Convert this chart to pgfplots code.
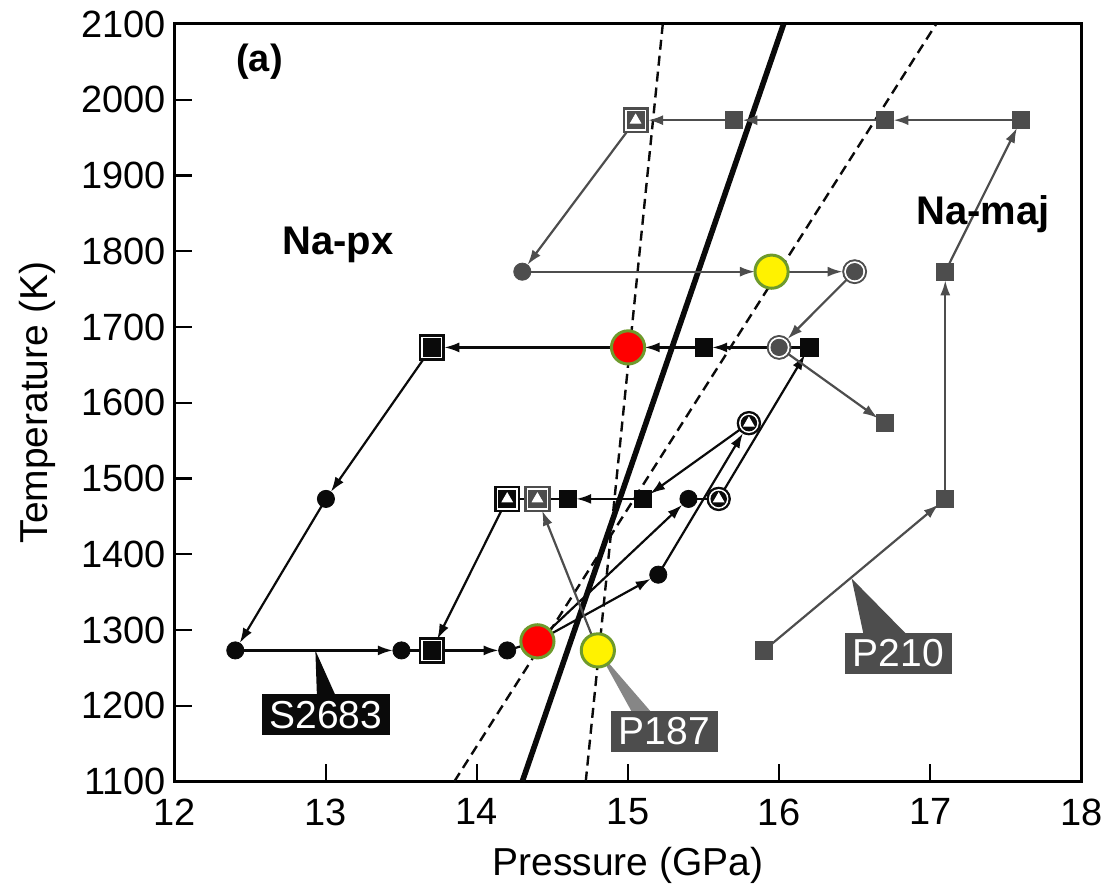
\documentclass[border=0pt]{standalone}
\usepackage{fontspec}
\setmainfont{Liberation Sans}
\usepackage{pgfplots}
\pgfplotsset{compat=1.18}
\usetikzlibrary{arrows.meta}
\definecolor{ink}{HTML}{0A0A0A}
\definecolor{mgray}{HTML}{4D4D4D}
\definecolor{lgray}{HTML}{868686}
\definecolor{rimgreen}{HTML}{6E9A2C}

% one arrow segment: [colour]{shorten}{x1,y1}{x2,y2}
\newcommand{\arr}[4][ink]{\addplot[#1,line width=1.1pt,-{Latex[length=7.5pt,width=5pt]},shorten >=#2] coordinates {(#3) (#4)};}
\newcommand{\seg}[3][ink]{\addplot[#1,line width=1.1pt] coordinates {(#2) (#3)};}

\begin{document}
\begin{tikzpicture}
\begin{axis}[
  scale only axis, width=453.5pt, height=379pt,
  xmin=12, xmax=18, ymin=1100, ymax=2100,
  xtick={12,13,...,18}, ytick={1100,1200,...,2100},
  xtick pos=bottom, ytick pos=left, tick align=inside,
  major tick length=8.5pt,
  axis line style={line width=1.5pt}, every tick/.style={line width=1.2pt,black},
  /pgf/number format/1000 sep={}, /pgf/number format/assume math mode=true,
  tick label style={font=\fontsize{19}{22}\selectfont},
  label style={font=\fontsize{19.5}{23}\selectfont},
  xlabel={Pressure (GPa)}, ylabel={Temperature (K)},
  xticklabel style={yshift=-5pt}, yticklabel style={xshift=-1pt},
  xlabel style={yshift=-4pt}, ylabel style={yshift=6pt},
  clip=true,
]
% phase boundaries
\addplot[ink, line width=1.2pt, dash pattern=on 5pt off 3pt] coordinates {(14.72,1100) (15.23,2100)};
\addplot[ink, line width=1.2pt, dash pattern=on 5pt off 3pt] coordinates {(13.85,1100) (17.04,2100)};
\addplot[ink, line width=2.8pt] coordinates {(14.3,1100) (16.03,2100)};

% S2683 path (black)
\arr{4.3pt}{12.4,1273}{13.5,1273}
\seg{13.5,1273}{13.7,1273}
\arr{4.3pt}{13.7,1273}{14.2,1273}
\seg{14.2,1273}{14.4,1285}
\arr{4.3pt}{14.4,1285}{15.2,1373}
\arr{4.3pt}{14.4,1285}{15.4,1473}
\seg{15.4,1473}{15.6,1473}
\arr{4.3pt}{15.6,1473}{16.2,1673}
\arr{5.8pt}{15.2,1373}{15.8,1573}
\arr{4.3pt}{15.8,1573}{15.1,1473}
\arr{4.3pt}{15.1,1473}{14.6,1473}
\seg{14.6,1473}{14.2,1473}
\arr{6.3pt}{14.2,1473}{13.7,1273}
\arr{4.3pt}{16.2,1673}{15.5,1673}
\arr{8.3pt}{15.5,1673}{15.0,1673}
\arr{6.3pt}{15.0,1673}{13.7,1673}
\arr{4.3pt}{13.7,1673}{13.0,1473}
\arr{4.3pt}{13.0,1473}{12.4,1273}

% P187 / P210 paths (grey)
\arr[mgray]{8.3pt}{14.3,1773}{15.95,1773}
\arr[mgray]{6pt}{15.95,1773}{16.5,1773}
\arr[mgray]{6pt}{16.5,1773}{16.0,1673}
\arr[mgray]{4.3pt}{16.0,1673}{16.7,1573}
\arr[mgray]{4.3pt}{15.05,1973}{14.3,1773}
\arr[mgray]{6.3pt}{15.7,1973}{15.05,1973}
\arr[mgray]{4.3pt}{16.7,1973}{15.7,1973}
\arr[mgray]{4.3pt}{17.6,1973}{16.7,1973}
\arr[mgray]{4.3pt}{17.1,1773}{17.6,1973}
\arr[mgray]{4.3pt}{17.1,1473}{17.1,1773}
\arr[mgray]{4.3pt}{15.9,1273}{17.1,1473}
\arr[mgray]{6.3pt}{14.8,1273}{14.4,1473}

% markers: black
\addplot[only marks, mark=*, mark size=4.3pt, ink] coordinates {(12.4,1273) (13.0,1473) (13.5,1273) (14.2,1273) (15.2,1373) (15.4,1473)};
\addplot[only marks, mark=square*, mark size=4.3pt, ink] coordinates {(15.1,1473) (14.6,1473) (16.2,1673) (15.5,1673)};
\addplot[only marks, mark=square*, mark size=6.3pt, ink] coordinates {(13.7,1273) (13.7,1673) (14.2,1473)};
\addplot[only marks, mark=square*, mark size=5.1pt, white] coordinates {(13.7,1273) (13.7,1673) (14.2,1473)};
\addplot[only marks, mark=square*, mark size=4.3pt, ink] coordinates {(13.7,1273) (13.7,1673) (14.2,1473)};
\addplot[only marks, mark=*, mark size=5.9pt, ink] coordinates {(15.6,1473) (15.8,1573)};
\addplot[only marks, mark=*, mark size=4.7pt, white] coordinates {(15.6,1473) (15.8,1573)};
\addplot[only marks, mark=*, mark size=3.9pt, ink] coordinates {(15.6,1473) (15.8,1573)};
% markers: grey
\addplot[only marks, mark=square*, mark size=4.3pt, mgray] coordinates {(15.7,1973) (16.7,1973) (17.6,1973) (17.1,1773) (17.1,1473) (16.7,1573) (15.9,1273)};
\addplot[only marks, mark=*, mark size=4.3pt, mgray] coordinates {(14.3,1773)};
\addplot[only marks, mark=*, mark size=6pt, mgray] coordinates {(16.5,1773) (16.0,1673)};
\addplot[only marks, mark=*, mark size=5pt, white] coordinates {(16.5,1773) (16.0,1673)};
\addplot[only marks, mark=*, mark size=4.1pt, mgray] coordinates {(16.5,1773) (16.0,1673)};
\addplot[only marks, mark=square*, mark size=6.3pt, mgray] coordinates {(14.4,1473) (15.05,1973)};
\addplot[only marks, mark=square*, mark size=5.1pt, white] coordinates {(14.4,1473) (15.05,1973)};
\addplot[only marks, mark=square*, mark size=4.3pt, mgray] coordinates {(14.4,1473) (15.05,1973)};
% white triangles
\addplot[only marks, mark=triangle*, mark size=3pt, white] coordinates {(14.2,1473) (14.4,1473) (15.05,1973) (15.6,1473) (15.8,1573)};

% callout pointers
\fill[ink] (axis cs:12.93,1273) -- (axis cs:12.94,1215) -- (axis cs:13.06,1215) -- cycle;
\fill[lgray] (axis cs:14.8,1273) -- (axis cs:15.03,1190) -- (axis cs:15.16,1190) -- cycle;
\fill[mgray] (axis cs:16.48,1368) -- (axis cs:16.56,1293) -- (axis cs:16.85,1293) -- cycle;

% red and yellow points
\addplot[only marks, mark=*, mark size=8.3pt, mark options={fill=red, draw=rimgreen, line width=1.5pt}] coordinates {(14.4,1285) (15.0,1673)};
\addplot[only marks, mark=*, mark size=8.3pt, mark options={fill=yellow, draw=rimgreen, line width=1.5pt}] coordinates {(14.8,1273) (15.95,1773)};

% labels
\node[fill=ink, text=white, font=\fontsize{19.5}{22}\selectfont, inner xsep=4pt, minimum height=20pt] at (axis cs:13.0,1188) {S2683};
\node[fill=mgray, text=white, font=\fontsize{19.5}{22}\selectfont, inner xsep=4pt, minimum height=20pt] at (axis cs:15.24,1166) {P187};
\node[fill=mgray, text=white, font=\fontsize{19.5}{22}\selectfont, inner xsep=4pt, minimum height=20pt] at (axis cs:16.79,1269) {P210};
\node[font=\bfseries\fontsize{20}{24}\selectfont] at (axis cs:13.08,1808) {Na-px};
\node[font=\bfseries\fontsize{20}{24}\selectfont] at (axis cs:17.35,1849) {Na-maj};
\node[font=\bfseries\fontsize{19}{23}\selectfont] at (axis cs:12.56,2050) {(a)};
\end{axis}
\path ([xshift=-87.5pt,yshift=-56.5pt]current axis.south west) rectangle ([xshift=13.5pt,yshift=12pt]current axis.north east);
\end{tikzpicture}
\end{document}
